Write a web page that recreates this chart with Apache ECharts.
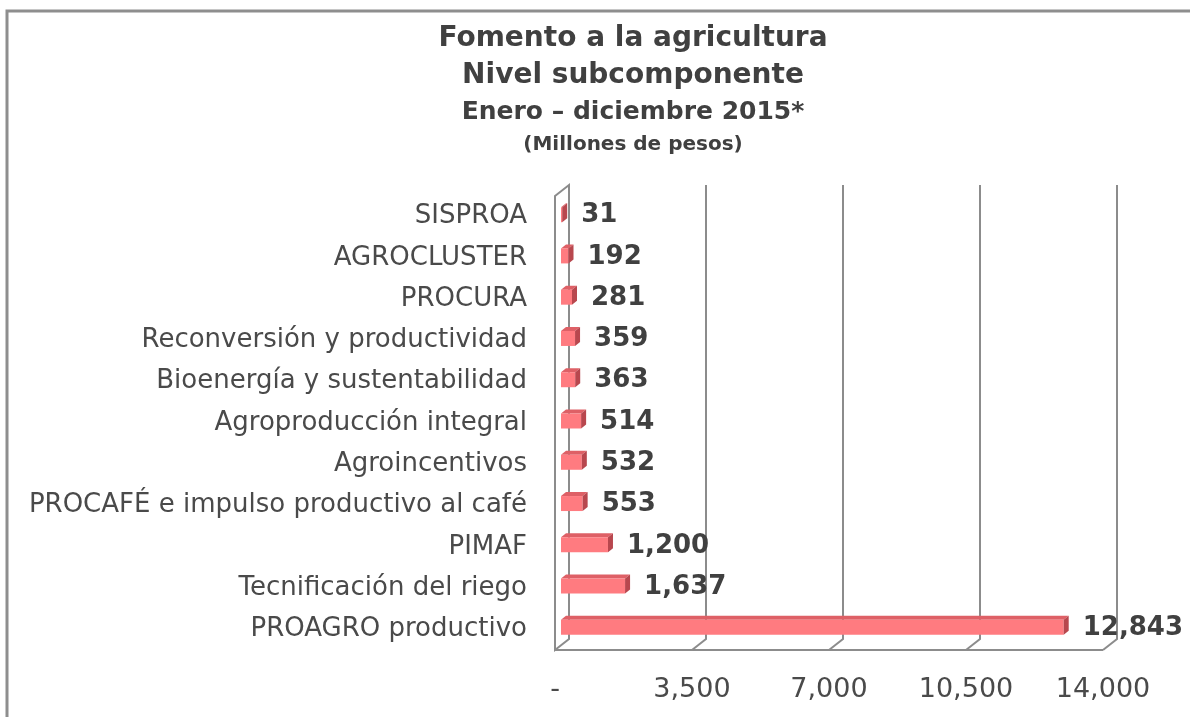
<!DOCTYPE html>
<html>
<head>
<meta charset="utf-8">
<script src="https://cdn.jsdelivr.net/npm/echarts@6/dist/echarts.min.js"></script>
<style>
html,body{margin:0;padding:0;background:#fff;}
#main{width:1190px;height:717px;}
</style>
</head>
<body>
<div id="main"></div>
<script>
// categorias de arriba hacia abajo
var categorias = ['SISPROA','AGROCLUSTER','PROCURA','Reconversión y productividad','Bioenergía y sustentabilidad','Agroproducción integral','Agroincentivos','PROCAFÉ e impulso productivo al café','PIMAF','Tecnificación del riego','PROAGRO productivo'];
var montos = [31,192,281,359,363,514,532,553,1200,1637,12843];
var ejeTicks = [0,3500,7000,10500,14000];

var titulo = ['Fomento a la agricultura','Nivel subcomponente','Enero – diciembre 2015*','(Millones de pesos)'];

function fmt(v){
	if(v === 0) return '-';
	return v.toString().replace(/\B(?=(\d{3})+(?!\d))/g, ',');
}

var myChart = echarts.init(document.getElementById('main'));

var datos = [];
for(var i = 0; i < montos.length; i++){
	datos.push([montos[i], i]);
}

// profundidad 3D del piso / pared
var DX = 14, DY = -11;
var fuente = 'DejaVu Sans';

var option = {
	backgroundColor:'#fff',
	animation:false,
	title:[
		{text:titulo[0],left:628,top:20,textAlign:'center',textStyle:{fontFamily:fuente,fontWeight:'bold',fontSize:28,color:'#404040'}},
		{text:titulo[1],left:628,top:57,textAlign:'center',textStyle:{fontFamily:fuente,fontWeight:'bold',fontSize:28,color:'#404040'}},
		{text:titulo[2],left:628,top:95,textAlign:'center',textStyle:{fontFamily:fuente,fontWeight:'bold',fontSize:25,color:'#404040'}},
		{text:titulo[3],left:628,top:130,textAlign:'center',textStyle:{fontFamily:fuente,fontWeight:'bold',fontSize:20,color:'#404040'}}
	],
	grid:{left:555,right:87,top:196,bottom:67,containLabel:false},
	xAxis:{
		type:'value',
		min:0,max:14000,interval:3500,
		axisLine:{show:false},
		axisTick:{show:false},
		splitLine:{show:false},
		axisLabel:{
			margin:26,
			fontFamily:fuente,fontSize:27,color:'#4a4a4a',
			formatter:function(v){ return fmt(v); }
		}
	},
	yAxis:{
		type:'category',
		inverse:true,
		data:categorias,
		axisLine:{show:false},
		axisTick:{show:false},
		axisLabel:{margin:28,fontFamily:fuente,fontSize:26,color:'#4a4a4a'}
	},
	series:[{
		type:'custom',
		z:5,
		encode:{x:0,y:1},
		data:datos,
		renderItem:function(params, api){
			var idx = api.value(1);
			var p0 = api.coord([0, idx]);
			var p1 = api.coord([api.value(0), idx]);
			var ox = 6, oy = -2, h = 15, sx = 5, sy = -4;
			var x = p0[0] + ox;
			var y = p0[1] + oy - h/2;
			var w = Math.max(p1[0] - p0[0], 1);
			return {
				type:'group',
				children:[
					{type:'polygon',shape:{points:[[x,y],[x+w,y],[x+w+sx,y+sy],[x+sx,y+sy]]},style:{fill:'#DE6066'}},
					{type:'rect',shape:{x:x,y:y,width:w,height:h},style:{fill:'#FF7B80'}},
					{type:'polygon',shape:{points:[[x+w,y],[x+w+sx,y+sy],[x+w+sx,y+h+sy],[x+w,y+h]]},style:{fill:'#B8474E'}},
					{type:'text',x:x+w+sx+14,y:p0[1]-1,style:{text:fmt(api.value(0)),fontFamily:fuente,fontWeight:'bold',fontSize:26,fill:'#404040',align:'left',verticalAlign:'middle'}}
				]
			};
		}
	}]
};
myChart.setOption(option, true);

// pared, piso y lineas de division al fondo
var gris = '#8C8C8C';
var graficos = [
	{type:'polyline',shape:{points:[[7,717],[7,11],[1190,11]]},style:{stroke:'#8E8E8E',lineWidth:3,fill:null},z:0}
];
var area = myChart.getModel().getComponent('grid').coordinateSystem.getRect();
var yT = area.y, yB = area.y + area.height;
var f0 = myChart.convertToPixel({xAxisIndex:0},0);
var fN = myChart.convertToPixel({xAxisIndex:0},ejeTicks[ejeTicks.length-1]);
// pared izquierda
graficos.push({type:'polygon',shape:{points:[[f0,yT],[f0+DX,yT+DY],[f0+DX,yB+DY],[f0,yB]]},style:{fill:'#fff',stroke:gris,lineWidth:2},z:1});
// piso frontal
graficos.push({type:'line',shape:{x1:f0,y1:yB,x2:fN,y2:yB},style:{stroke:gris,lineWidth:2},z:1});
for(var k = 1; k < ejeTicks.length; k++){
	var fx = myChart.convertToPixel({xAxisIndex:0},ejeTicks[k]);
	graficos.push({type:'polyline',shape:{points:[[fx+DX,yT+DY],[fx+DX,yB+DY],[fx,yB]]},style:{stroke:gris,lineWidth:2,fill:null},z:1});
}
myChart.setOption({graphic:graficos});
</script>
</body>
</html>
